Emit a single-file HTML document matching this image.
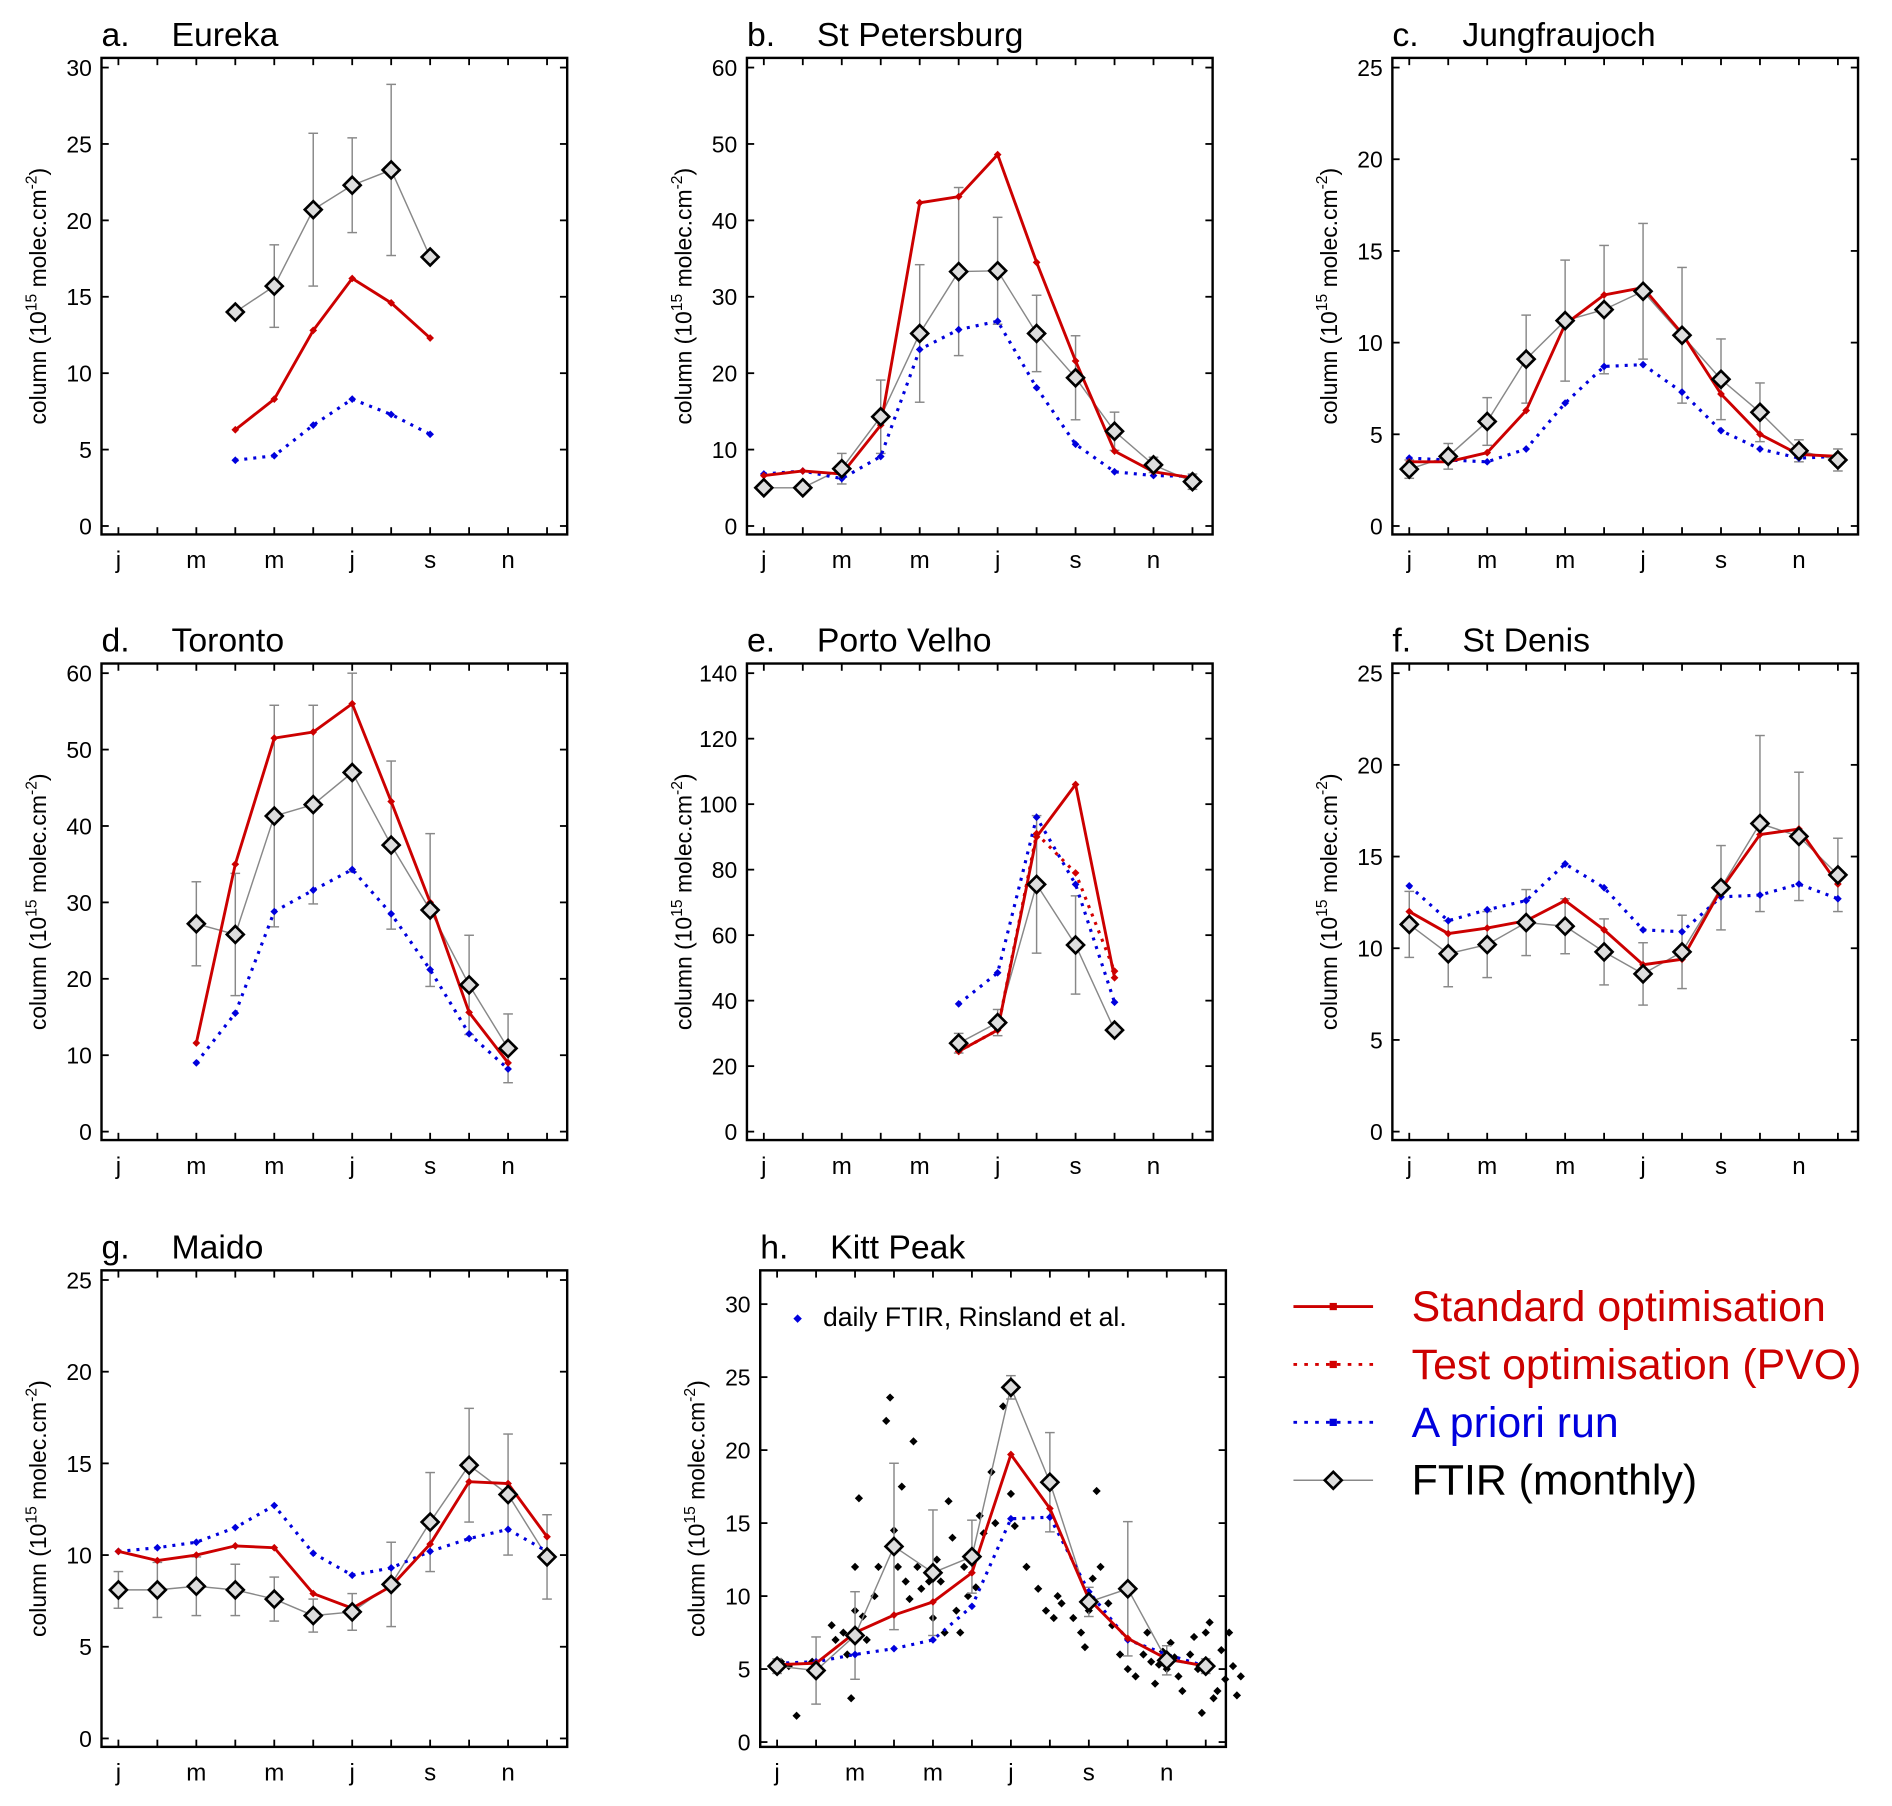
<!DOCTYPE html>
<html><head><meta charset="utf-8"><style>
html,body{margin:0;padding:0;background:#fff}
svg{display:block}
text{font-family:"Liberation Sans",Arial,sans-serif}
</style></head><body>
<svg id="fig" width="1892" height="1806" viewBox="0 0 1568 1497" xmlns="http://www.w3.org/2000/svg"></svg>
<script>
const months=['j','f','m','a','m','j','j','a','s','o','n','d'];
const tickMonths=[0,2,4,6,8,10];
// Eureka (start month 3)
const eurekaFtir=[14,15.7,20.7,22.3,23.3,17.6];
const eurekaErr=[0,2.7,5,3.1,5.6,0];
const eurekaStd=[6.3,8.3,12.8,16.2,14.6,12.3];
const eurekaApr=[4.3,4.6,6.6,8.3,7.3,6.0];
// St Petersburg
const spbFtir=[5,5,7.5,14.3,25.2,33.3,33.4,25.2,19.4,12.4,8,5.8];
const spbErr=[0,0,2,4.8,9,11,7,5,5.5,2.5,1,1];
const spbStd=[6.6,7.2,6.8,13.2,42.3,43.1,48.6,34.5,21.6,9.8,7.1,6.3];
const spbApr=[6.8,7.2,6.2,9.1,23.1,25.7,26.8,18.1,10.7,7.1,6.6,6.5];
// Jungfraujoch
const jfjFtir=[3.1,3.8,5.7,9.1,11.2,11.8,12.8,10.4,8.0,6.2,4.1,3.6];
const jfjErr=[0.5,0.7,1.3,2.4,3.3,3.5,3.7,3.7,2.2,1.6,0.6,0.6];
const jfjStd=[3.5,3.5,4.0,6.3,11.0,12.6,13.0,10.5,7.2,5.0,3.9,3.8];
const jfjApr=[3.7,3.6,3.5,4.2,6.7,8.7,8.8,7.3,5.2,4.2,3.7,3.8];
// Toronto (start month 2)
const torFtir=[27.2,25.8,41.3,42.8,47,37.5,29,19.2,10.9];
const torErr=[5.5,8,14.5,13,13,11,10,6.5,4.5];
const torStd=[11.6,35,51.5,52.3,56,43.2,30,15.6,9];
const torApr=[9,15.5,28.8,31.6,34.3,28.5,21.2,12.8,8.2];
// Porto Velho (start month 5)
const pvFtir=[27,33.3,75.5,57,31];
const pvErr=[3,4,21,15,0];
const pvStd=[24.5,31,90,106,47];
const pvTest=[24.5,31,91,79,49];
const pvApr=[39,48.5,96,75.5,39.5];
// St Denis
const sdFtir=[11.3,9.7,10.2,11.4,11.2,9.8,8.6,9.8,13.3,16.8,16.1,14.0];
const sdErr=[1.8,1.8,1.8,1.8,1.5,1.8,1.7,2,2.3,4.8,3.5,2];
const sdStd=[12.0,10.8,11.1,11.5,12.6,11.0,9.1,9.4,13.2,16.2,16.5,13.5];
const sdApr=[13.4,11.5,12.1,12.6,14.6,13.3,11.0,10.9,12.8,12.9,13.5,12.7];
// Maido
const maFtir=[8.1,8.1,8.3,8.1,7.6,6.7,6.9,8.4,11.8,14.9,13.3,9.9];
const maErr=[1,1.5,1.6,1.4,1.2,0.9,1,2.3,2.7,3.1,3.3,2.3];
const maStd=[10.2,9.7,10.0,10.5,10.4,7.9,7.1,8.3,10.6,14.0,13.9,11.0];
const maApr=[10.2,10.4,10.7,11.5,12.7,10.1,8.9,9.3,10.2,10.9,11.4,10.2];
// Kitt Peak
const kpFtir=[5.2,4.9,7.3,13.4,11.6,12.7,24.3,17.8,9.6,10.5,5.6,5.2];
const kpErr=[0.5,2.3,3,5.7,4.3,2.5,0.8,3.4,1,4.6,1,0.5];
const kpStd=[5.3,5.4,7.5,8.7,9.6,11.6,19.7,16.0,9.8,7.1,5.7,5.2];
const kpApr=[5.4,5.5,6.0,6.4,7.0,9.3,15.3,15.4,10.3,7.0,6.0,5.2];
// daily FTIR (month position, value)
const kpDailyMonth=[0.1,0.3,0.5,0.9,1.4,1.5,1.7,1.8,1.9,2.0,2.0,2.1,2.2,2.3,2.5,2.6,2.8,2.9,3.0,3.1,3.2,3.3,3.4,3.5,3.6,3.7,3.9,4.0,4.1,4.2,4.3,4.4,4.5,4.6,4.7,4.8,4.9,5.0,5.1,5.2,5.3,5.5,5.6,5.8,6.0,6.1,6.4,6.7,6.9,7.1,7.2,7.3,7.6,7.8,7.9,8.0,8.1,8.2,8.3,8.5,8.6,8.8,9.0,9.2,9.4,9.5,9.6,9.7,9.8,9.9,10.0,10.1,10.2,10.3,10.4,10.6,10.7,10.8,10.9,11.0,11.1,11.2,11.3,11.4,11.5,11.6,11.7,11.8,11.9];
const kpDailyVal=[5.5,5.2,1.8,5.5,8,7,7.5,6,3,9,12,16.7,8.6,7,10,12,22,23.6,14.5,12,17.5,11,9.8,20.6,12,10.5,11,8.5,12.5,11,7.5,16.5,14,9,7.5,12,10,13,10.6,15.5,14.3,18.5,15,23,17,14.8,12,10.5,9,8.5,10,9.5,8.5,7.5,6.5,9,11.2,17.2,12,9.5,8,6,5,4.5,6,7.5,5.5,4,5.3,6.2,5,6.8,5.8,4.5,3.5,6,7.2,5,2,7.5,8.2,3,3.5,6.3,4.3,7.5,5.2,3.2,4.5];

const svg=document.getElementById('fig');
const NS='http://www.w3.org/2000/svg';
function el(tag,attrs,parent,txt){const e=document.createElementNS(NS,tag);for(const k in attrs)e.setAttribute(k,attrs[k]);if(txt!==undefined)e.textContent=txt;(parent||svg).appendChild(e);return e;}
function diamond(cx,cy,r){return `${cx},${cy-r} ${cx+r},${cy} ${cx},${cy+r} ${cx-r},${cy}`;}

function panel(o){
  const g=el('g',{});
  
  
  const L=o.x,T=o.y,W=386,H=o.h||395;
  const y0=o.y0,y1=o.y1;
  const ys=v=>y0-(v/o.ymax)*(y0-y1);
  const xs=m=>L+14+m*32.3;
  const box=el('rect',{x:L,y:T,width:W,height:H,fill:'none',stroke:'#000','stroke-width':2},g);
  
  
  for(let v=0;v<=o.ymax+1e-9;v+=o.ystep){
    const y=ys(v);
    el('line',{x1:L,x2:L+6,y1:y,y2:y,stroke:'#000','stroke-width':1.5},g);
    el('line',{x1:L+W,x2:L+W-6,y1:y,y2:y,stroke:'#000','stroke-width':1.5},g);
    const t=el('text',{x:L-8,y:y+7,'text-anchor':'end','font-size':19},g,String(v));
    
    
  }
  for(let m=0;m<12;m++){
    const x=xs(m);
    el('line',{x1:x,x2:x,y1:T+H,y2:T+H-6,stroke:'#000','stroke-width':1.5},g);
    el('line',{x1:x,x2:x,y1:T,y2:T+6,stroke:'#000','stroke-width':1.5},g);
  }
  tickMonths.forEach(m=>{
    const t=el('text',{x:xs(m),y:T+H+28,'text-anchor':'middle','font-size':20},g,months[m]);
    
    
  });
  const cy=T+H/2;
  const yl=el('text',{x:0,y:0,transform:`translate(${L-46},${cy}) rotate(-90)`,'text-anchor':'middle','font-size':19},g);
  
  
  yl.innerHTML='column (10<tspan dy="-8" font-size="13">15</tspan><tspan dy="8"> molec.cm</tspan><tspan dy="-8" font-size="13">-2</tspan><tspan dy="8">)</tspan>';
  const tl=el('text',{x:L,y:T-10,'font-size':28},g,o.letter);
  
  
  const tt=el('text',{x:L+58,y:T-10,'font-size':28},g,o.title);
  
  
  const s=o.start||0;
  if(o.daily){
    o.daily[0].forEach((m,i)=>{
      const p=el('polygon',{points:diamond(xs(m),ys(o.daily[1][i]),3.4),fill:'#000'},g);
      
      
    });
  }
  o.ftir.forEach((v,i)=>{
    const e=o.err[i];if(!e)return;const x=xs(s+i);
    el('line',{x1:x,x2:x,y1:ys(v-e),y2:ys(v+e),stroke:'#888','stroke-width':1.2},g);
    el('line',{x1:x-4,x2:x+4,y1:ys(v-e),y2:ys(v-e),stroke:'#888','stroke-width':1.2},g);
    el('line',{x1:x-4,x2:x+4,y1:ys(v+e),y2:ys(v+e),stroke:'#888','stroke-width':1.2},g);
  });
  const fl=el('polyline',{points:o.ftir.map((v,i)=>xs(s+i)+','+ys(v)).join(' '),fill:'none',stroke:'#888','stroke-width':1.2},g);
  
  
  function series(arr,color,dash,name){
    const pl=el('polyline',{points:arr.map((v,i)=>xs(s+i)+','+ys(v)).join(' '),fill:'none',stroke:color,'stroke-width':dash?2.6:2.4,'stroke-dasharray':dash||'none'},g);
    
    
    arr.forEach((v,i)=>{
      const p=el('polygon',{points:diamond(xs(s+i),ys(v),3.2),fill:color},g);
      
      
    });
  }
  series(o.apr,'#0000dd','2.5 5','apriori');
  if(o.test) series(o.test,'#d40000','2.5 5','test-opt');
  series(o.std,'#cc0000',null,'standard-opt');
  o.ftir.forEach((v,i)=>{
    const p=el('polygon',{points:diamond(xs(s+i),ys(v),7),fill:'#ddd',stroke:'#000','stroke-width':2.2},g);
    
    
  });
  return g;
}
const R1=48,R2=550,R3=1053;
panel({name:'panel-eureka',letter:'a.',title:'Eureka',x:84,y:R1,y0:R1+388,y1:R1+8,ymax:30,ystep:5,start:3,ftir:eurekaFtir,err:eurekaErr,std:eurekaStd,apr:eurekaApr});
panel({name:'panel-st-petersburg',letter:'b.',title:'St Petersburg',x:619,y:R1,y0:R1+388,y1:R1+8,ymax:60,ystep:10,ftir:spbFtir,err:spbErr,std:spbStd,apr:spbApr});
panel({name:'panel-jungfraujoch',letter:'c.',title:'Jungfraujoch',x:1154,y:R1,y0:R1+388,y1:R1+8,ymax:25,ystep:5,ftir:jfjFtir,err:jfjErr,std:jfjStd,apr:jfjApr});
panel({name:'panel-toronto',letter:'d.',title:'Toronto',x:84,y:R2,y0:R2+388,y1:R2+8,ymax:60,ystep:10,start:2,ftir:torFtir,err:torErr,std:torStd,apr:torApr});
panel({name:'panel-porto-velho',letter:'e.',title:'Porto Velho',x:619,y:R2,y0:R2+388,y1:R2+8,ymax:140,ystep:20,start:5,ftir:pvFtir,err:pvErr,std:pvStd,apr:pvApr,test:pvTest});
panel({name:'panel-st-denis',letter:'f.',title:'St Denis',x:1154,y:R2,y0:R2+388,y1:R2+8,ymax:25,ystep:5,ftir:sdFtir,err:sdErr,std:sdStd,apr:sdApr});
panel({name:'panel-maido',letter:'g.',title:'Maido',x:84,y:R3,y0:R3+388,y1:R3+8,ymax:25,ystep:5,ftir:maFtir,err:maErr,std:maStd,apr:maApr});
panel({name:'panel-kitt-peak',letter:'h.',title:'Kitt Peak',x:630,y:R3,y0:R3+391,y1:R3+28,ymax:30,ystep:5,ftir:kpFtir,err:kpErr,std:kpStd,apr:kpApr,daily:[kpDailyMonth,kpDailyVal]});

const dl=el('g',{});


el('polygon',{points:diamond(661,1093,3.5),fill:'#0000dd'},dl);
el('text',{x:682,y:1099,'font-size':22},dl,'daily FTIR, Rinsland et al.');

const lg=el('g',{});


const items=[['Standard optimisation','#cc0000',null,'#cc0000'],['Test optimisation (PVO)','#d40000','3 6','#cc0000'],['A priori run','#0000dd','3 6','#0000dd'],['FTIR (monthly)','#888',null,'#000']];
items.forEach((it,i)=>{
  const y=1083+i*48;
  const e=el('g',{},lg);
  
  
  el('line',{x1:1072,x2:1138,y1:y,y2:y,stroke:it[1],'stroke-width':i==3?1.2:2.4,'stroke-dasharray':it[2]||'none'},e);
  if(i==3) el('polygon',{points:diamond(1105,y,7),fill:'#ddd',stroke:'#000','stroke-width':2.2},e);
  else el('rect',{x:1102,y:y-3,width:6,height:6,fill:it[1]},e);
  el('text',{x:1170,y:y+12,'font-size':35.5,fill:it[3]},e,it[0]);
});
</script>
</body></html>
